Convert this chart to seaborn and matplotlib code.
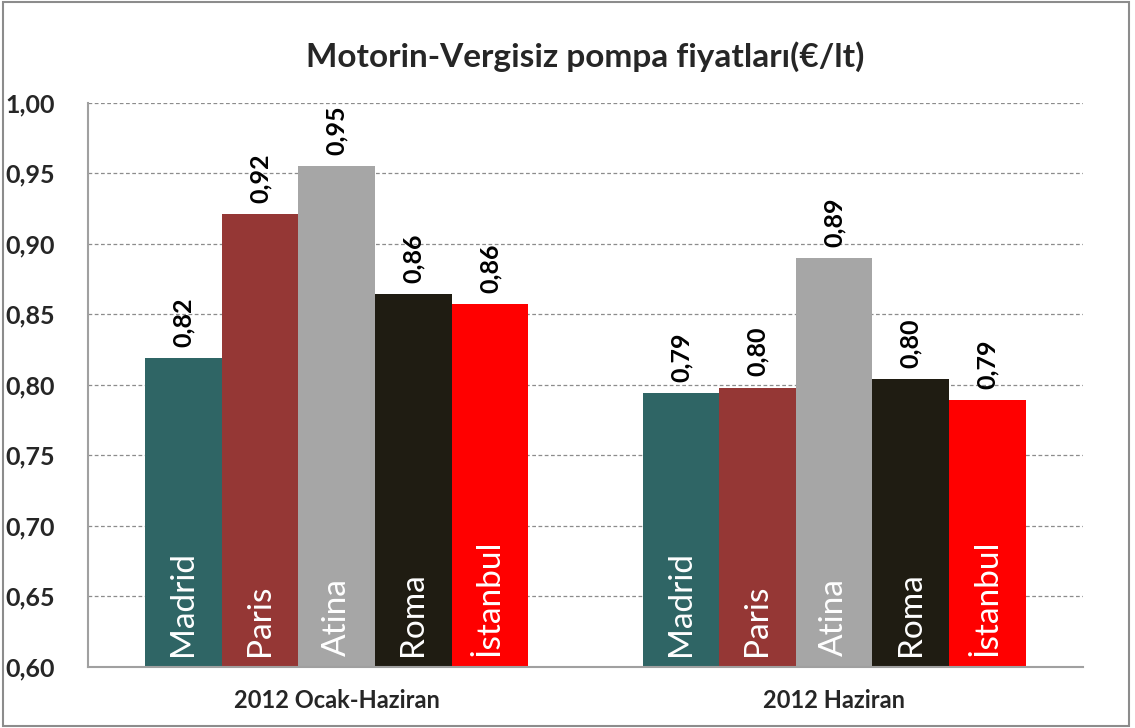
import pandas as pd
import matplotlib.pyplot as plt
import seaborn as sns
from matplotlib.patches import Rectangle

sns.set_theme(style="white")
plt.rcParams['font.family'] = ['Lato', 'DejaVu Sans']

# Veriler
periods = ['2012 Ocak-Haziran', '2012 Haziran']
cities = ['Madrid', 'Paris', 'Atina', 'Roma', 'İstanbul']
prices_ocak_haziran = [0.819, 0.921, 0.955, 0.864, 0.857]
prices_haziran = [0.794, 0.798, 0.890, 0.804, 0.789]
colors = ['#2F6565', '#953735', '#A6A6A6', '#1F1C12', '#FF0000']
yticks = [0.60, 0.65, 0.70, 0.75, 0.80, 0.85, 0.90, 0.95, 1.00]

df = pd.DataFrame({
    'donem': [periods[0]] * len(cities) + [periods[1]] * len(cities),
    'sehir': cities * 2,
    'fiyat': prices_ocak_haziran + prices_haziran,
})

fig, ax = plt.subplots(figsize=(11.35, 7.28), dpi=100)
fig.subplots_adjust(left=0.0775, right=0.954, top=0.859, bottom=0.084)

sns.barplot(data=df, x='donem', y='fiyat', hue='sehir', order=periods, hue_order=cities,
            palette=colors, width=0.77, gap=0, saturation=1, legend=False, ax=ax,
            edgecolor='none', linewidth=0)

ax.set_ylim(0.60, 1.00)
ax.set_yticks(yticks)
ax.set_yticklabels([f'{v:.2f}'.replace('.', ',') for v in yticks],
                   fontsize=18, fontweight='bold')
ax.set_xticklabels(periods, fontsize=17, fontweight='bold')
ax.tick_params(axis='x', length=0, pad=16)
ax.tick_params(axis='y', length=0, pad=24)
ax.set_xlabel('')
ax.set_ylabel('')

ax.yaxis.grid(True, linestyle=(0, (3, 2)), color='#8C8C8C', linewidth=0.9)
ax.set_axisbelow(True)
for side in ['top', 'right']:
    ax.spines[side].set_visible(False)
for side in ['left', 'bottom']:
    ax.spines[side].set_color('#A0A0A0')
    ax.spines[side].set_linewidth(1.5)

# Değer etiketleri ve şehir isimleri
for container, city in zip(ax.containers, cities):
    for bar in container:
        h = bar.get_height()
        cx = bar.get_x() + bar.get_width() / 2
        ax.annotate(f'{h:.2f}'.replace('.', ','), (cx, h), xytext=(0, 8),
                    textcoords='offset points', rotation=90, ha='center', va='bottom',
                    fontsize=18, fontweight='bold', color='black')
        ax.annotate(city, (cx, 0.60), xytext=(0, 8), textcoords='offset points',
                    rotation=90, ha='center', va='bottom', fontsize=24, color='white')

ax.set_title('Motorin-Vergisiz pompa fiyatları(€/lt)', fontsize=24, fontweight='bold', pad=26)

fig.patches.append(Rectangle((0.003, 0.003), 0.992, 0.994, transform=fig.transFigure,
                             fill=False, edgecolor='#8C8C8C', linewidth=1.5))

fig.savefig('out.png', dpi=100)
